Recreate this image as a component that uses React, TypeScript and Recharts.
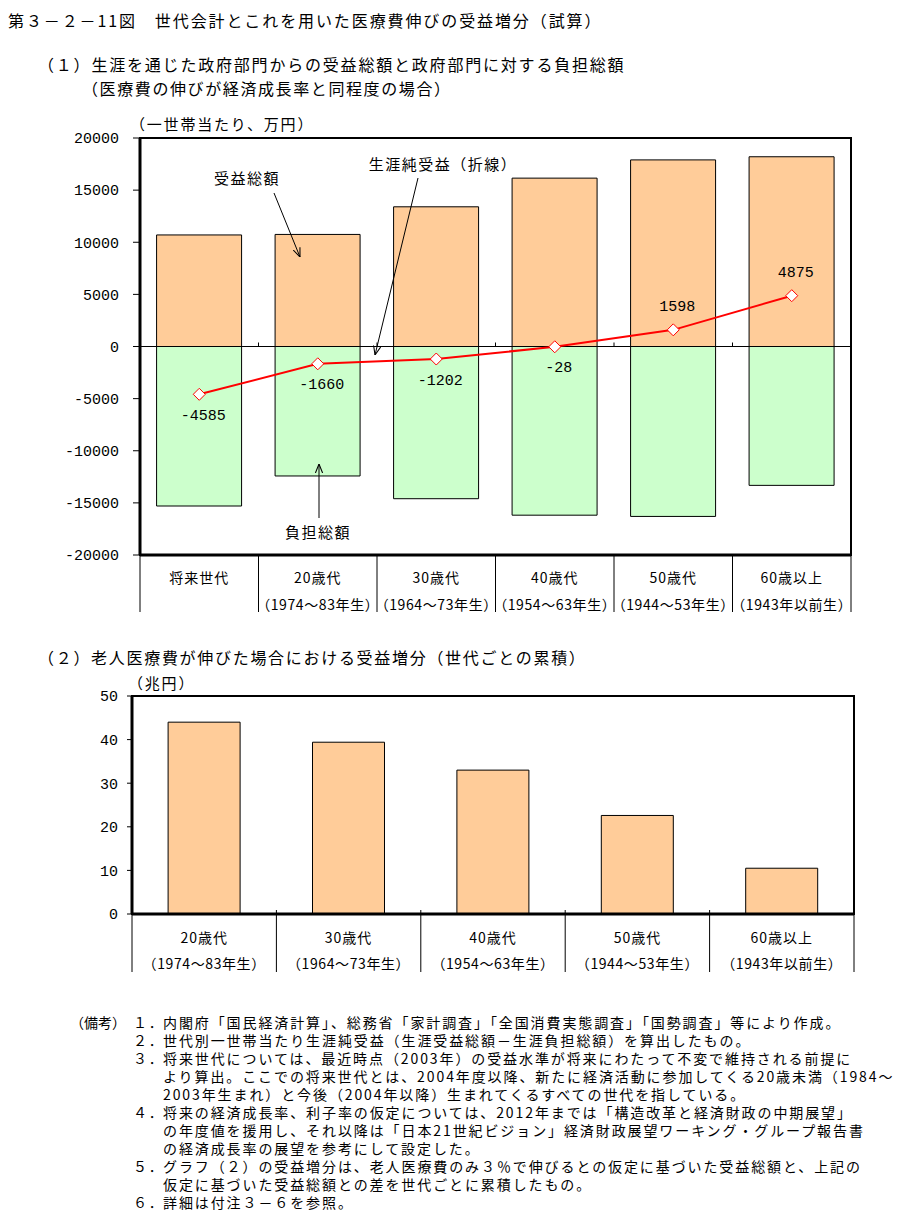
import React from 'react'
import {
  ComposedChart, BarChart, Bar, Line, XAxis, YAxis, ReferenceLine, ReferenceArea, LabelList,
} from 'recharts'

const JP = "'Noto Sans CJK JP', sans-serif"
const NUM = "'Liberation Mono', monospace"

// chart (1)
const categories1 = ['将来世代', '20歳代', '30歳代', '40歳代', '50歳代', '60歳以上']
const births1 = ['', '（1974～83年生）', '（1964～73年生）', '（1954～63年生）', '（1944～53年生）', '（1943年以前生）']
const benefitTotal = [10700, 10750, 13400, 16150, 17900, 18200]
const burdenTotal = [-15300, -12420, -14600, -16180, -16300, -13320]
const netBenefit = [-4585, -1660, -1202, -28, 1598, 4875]
const yTicks1 = [20000, 15000, 10000, 5000, 0, -5000, -10000, -15000, -20000]

// chart (2)
const categories2 = ['20歳代', '30歳代', '40歳代', '50歳代', '60歳以上']
const births2 = ['（1974～83年生）', '（1964～73年生）', '（1954～63年生）', '（1944～53年生）', '（1943年以前生）']
const increase = [44.0, 39.4, 33.0, 22.6, 10.5]
const yTicks2 = [0, 10, 20, 30, 40, 50]

const notes: [string, string][] = [
  ['１．', '内閣府「国民経済計算」、総務省「家計調査」「全国消費実態調査」「国勢調査」等により作成。'],
  ['２．', '世代別一世帯当たり生涯純受益（生涯受益総額－生涯負担総額）を算出したもの。'],
  ['３．', '将来世代については、最近時点（2003年）の受益水準が将来にわたって不変で維持される前提に'],
  ['', 'より算出。ここでの将来世代とは、2004年度以降、新たに経済活動に参加してくる20歳未満（1984～'],
  ['', '2003年生まれ）と今後（2004年以降）生まれてくるすべての世代を指している。'],
  ['４．', '将来の経済成長率、利子率の仮定については、2012年までは「構造改革と経済財政の中期展望」'],
  ['', 'の年度値を援用し、それ以降は「日本21世紀ビジョン」経済財政展望ワーキング・グループ報告書'],
  ['', 'の経済成長率の展望を参考にして設定した。'],
  ['５．', 'グラフ（２）の受益増分は、老人医療費のみ３％で伸びるとの仮定に基づいた受益総額と、上記の'],
  ['', '仮定に基づいた受益総額との差を世代ごとに累積したもの。'],
  ['６．', '詳細は付注３－６を参照。'],
]

const data1 = categories1.map((cat, i) => ({
  cat, benefit: benefitTotal[i], burden: burdenTotal[i], net: netBenefit[i],
}))
const data2 = categories2.map((cat, i) => ({ cat, v: increase[i] }))

// layout of the plots
const W = 914
const P1 = { left: 140, right: 851, top: 138, bottom: 555 }
const P2 = { left: 132, right: 854, top: 696, bottom: 914 }
const band1 = (P1.right - P1.left) / categories1.length
const band2 = (P2.right - P2.left) / categories2.length

const Cat1Tick = (props: any) => {
  const { x, y, payload } = props
  const i = categories1.indexOf(payload.value)
  const h = band1 / 2
  const zeroY = y - (P1.bottom - P1.top) / 2
  return (
    <g>
      <line x1={x - h} x2={x - h} y1={y} y2={y + 57} stroke="#000" />
      {i === categories1.length - 1 && <line x1={x + h} x2={x + h} y1={y} y2={y + 57} stroke="#000" />}
      {i > 0 && <line x1={x - h} x2={x - h} y1={zeroY - 4} y2={zeroY} stroke="#000" />}
      <text x={x} y={y + 22} textAnchor="middle" dominantBaseline="central" fontSize={14} fontFamily={JP} letterSpacing={1} fill="#000">
        {categories1[i]}
      </text>
      <text x={x} y={y + 49} textAnchor="middle" dominantBaseline="central" fontSize={14} fontFamily={JP} letterSpacing={0.6} fill="#000">
        {births1[i]}
      </text>
    </g>
  )
}

const Cat2Tick = (props: any) => {
  const { x, y, payload } = props
  const i = categories2.indexOf(payload.value)
  const h = band2 / 2
  return (
    <g>
      <line x1={x - h} x2={x - h} y1={i === 0 ? y : y - 4} y2={y + 58} stroke="#000" />
      {i === categories2.length - 1 && <line x1={x + h} x2={x + h} y1={y} y2={y + 58} stroke="#000" />}
      <text x={x} y={y + 23} textAnchor="middle" dominantBaseline="central" fontSize={14} fontFamily={JP} letterSpacing={1} fill="#000">
        {categories2[i]}
      </text>
      <text x={x} y={y + 49} textAnchor="middle" dominantBaseline="central" fontSize={14} fontFamily={JP} letterSpacing={0.6} fill="#000">
        {births2[i]}
      </text>
    </g>
  )
}

const Diamond = (props: any) => {
  const { cx, cy, index } = props
  const r = 6
  return (
    <path
      key={`d${index}`}
      d={`M${cx},${cy - r} L${cx + r},${cy} L${cx},${cy + r} L${cx - r},${cy} Z`}
      fill="#fff"
      stroke="#FF0000"
      strokeWidth={1}
    />
  )
}

const NetLabel = (props: any) => {
  const { x, y, value } = props
  const dy = value < 0 ? 22 : -22
  return (
    <text x={x + 4} y={y + dy} textAnchor="middle" dominantBaseline="central" fontSize={15} fontFamily={NUM} fill="#000">
      {value}
    </text>
  )
}

const txt = (top: number, left: number, size: number, spacing: number, s: string) => (
  <div
    style={{
      position: 'absolute', top, left, fontSize: size, lineHeight: `${size}px`, letterSpacing: spacing,
      fontFamily: JP, whiteSpace: 'nowrap', color: '#000',
    }}
  >
    {s}
  </div>
)

export default function App() {
  return (
    <div style={{ position: 'absolute', left: 0, top: 0, width: W, height: 1222, background: '#fff', overflow: 'hidden' }}>
      {txt(12, 8, 16, 1.9, '第３－２－11図　世代会計とこれを用いた医療費伸びの受益増分（試算）')}
      {txt(56, 38, 16, 1.8, '（１）生涯を通じた政府部門からの受益総額と政府部門に対する負担総額')}
      {txt(80, 82, 16, 1.6, '（医療費の伸びが経済成長率と同程度の場合）')}
      {txt(116, 130, 15, 1.8, '（一世帯当たり、万円）')}

      <div style={{ position: 'absolute', left: 0, top: 0 }}>
        <ComposedChart
          width={W}
          height={630}
          data={data1}
          stackOffset="sign"
          barCategoryGap="14%"
          margin={{ top: P1.top, right: W - P1.right, bottom: 630 - P1.bottom - 62, left: P1.left - 60 }}
        >
          <XAxis
            dataKey="cat"
            interval={0}
            height={62}
            tickLine={false}
            tickSize={0}
            tickMargin={0}
            axisLine={{ stroke: '#000', strokeWidth: 3 }}
            tick={<Cat1Tick />}
          />
          <YAxis
            domain={[-20000, 20000]}
            ticks={yTicks1}
            interval={0}
            width={60}
            tickSize={7}
            tickMargin={14}
            axisLine={{ stroke: '#000', strokeWidth: 3 }}
            tickLine={{ stroke: '#000' }}
            tick={{ fill: '#000', fontSize: 15, fontFamily: NUM }}
          />
          <ReferenceArea y1={-20000} y2={20000} fill="none" stroke="#000" strokeWidth={2} fillOpacity={0} />
          <Bar dataKey="benefit" stackId="a" fill="#FFCC99" stroke="#000" strokeWidth={1} isAnimationActive={false} />
          <Bar dataKey="burden" stackId="a" fill="#CCFFCC" stroke="#000" strokeWidth={1} isAnimationActive={false} />
          <ReferenceLine y={0} stroke="#000" strokeWidth={1} />
          <Line dataKey="net" stroke="#FF0000" strokeWidth={2} dot={Diamond} activeDot={false} isAnimationActive={false}>
            <LabelList dataKey="net" content={NetLabel} />
          </Line>
        </ComposedChart>
      </div>

      {/* annotations of chart (1) */}
      <svg width={W} height={640} style={{ position: 'absolute', left: 0, top: 0, pointerEvents: 'none' }}>
        <defs>
          <marker id="arr" viewBox="0 0 10 10" refX="10" refY="5" markerWidth="9" markerHeight="9" orient="auto-start-reverse" markerUnits="userSpaceOnUse">
            <path d="M0,1 L10,5 L0,9" fill="none" stroke="#000" strokeWidth={1.2} />
          </marker>
        </defs>
        <text x={247} y={177} textAnchor="middle" dominantBaseline="central" fontSize={15} fontFamily={JP} letterSpacing={1.5}>受益総額</text>
        <line x1={274} y1={193} x2={300} y2={257} stroke="#000" markerEnd="url(#arr)" />
        <text x={443} y={163} textAnchor="middle" dominantBaseline="central" fontSize={15} fontFamily={JP} letterSpacing={1.5}>生涯純受益（折線）</text>
        <line x1={418} y1={178} x2={375} y2={355} stroke="#000" markerEnd="url(#arr)" />
        <text x={318} y={531} textAnchor="middle" dominantBaseline="central" fontSize={15} fontFamily={JP} letterSpacing={1.5}>負担総額</text>
        <line x1={319} y1={518} x2={319} y2={464} stroke="#000" markerEnd="url(#arr)" />
      </svg>

      {txt(649, 38, 16, 1.7, '（２）老人医療費が伸びた場合における受益増分（世代ごとの累積）')}
      {txt(675, 128, 15, 1.8, '（兆円）')}

      <div style={{ position: 'absolute', left: 0, top: 640 }}>
        <BarChart
          width={W}
          height={360}
          data={data2}
          barCategoryGap="25%"
          margin={{ top: P2.top - 640, right: W - P2.right, bottom: 360 - (P2.bottom - 640) - 70, left: P2.left - 60 }}
        >
          <XAxis
            dataKey="cat"
            interval={0}
            height={70}
            tickLine={false}
            tickSize={0}
            tickMargin={0}
            axisLine={{ stroke: '#000', strokeWidth: 3 }}
            tick={<Cat2Tick />}
          />
          <YAxis
            domain={[0, 50]}
            ticks={yTicks2}
            interval={0}
            width={60}
            tickSize={5}
            tickMargin={9}
            axisLine={{ stroke: '#000', strokeWidth: 3 }}
            tickLine={{ stroke: '#000' }}
            tick={{ fill: '#000', fontSize: 15, fontFamily: NUM }}
          />
          <ReferenceArea y1={0} y2={50} fill="none" stroke="#000" strokeWidth={2} fillOpacity={0} />
          <Bar dataKey="v" fill="#FFCC99" stroke="#000" strokeWidth={1} isAnimationActive={false} />
        </BarChart>
      </div>

      {txt(1015, 70, 14, 0, '（備考）')}
      {notes.map(([n, s], i) => (
        <React.Fragment key={i}>
          {n && txt(1015 + i * 18, 133, 14, 1.8, n)}
          {txt(1015 + i * 18, 163, 14, 1.9, s)}
        </React.Fragment>
      ))}
    </div>
  )
}
